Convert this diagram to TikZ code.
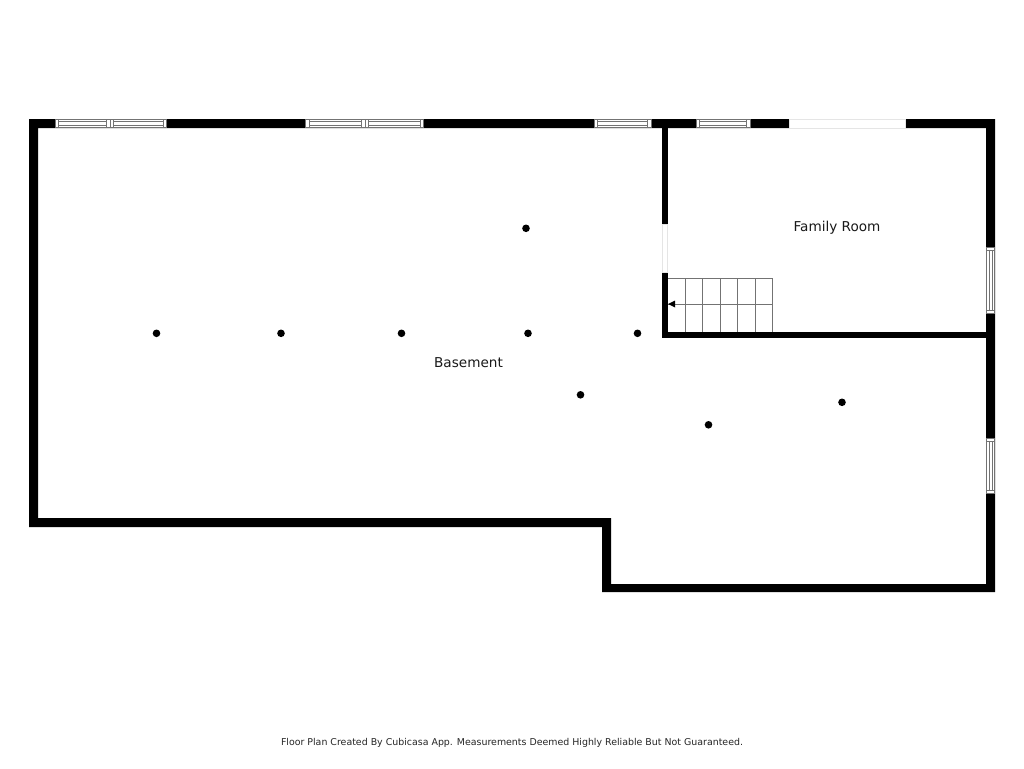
\documentclass[tikz,border=0pt]{standalone}
\usepackage{fontspec}
\setmainfont{DejaVu Sans}
\newcommand{\hwin}[2]{%
  \fill[white] (#1,118.5) rectangle (#2,128);
  \draw[winline] (#1,119) rectangle (#2,127.5);
  \draw[winline] (#1+3.5,119) -- (#1+3.5,127.5) (#2-3.5,119) -- (#2-3.5,127.5);
  \draw[winline] (#1+3.5,121.5) -- (#2-3.5,121.5) (#1+3.5,125) -- (#2-3.5,125);
}
\newcommand{\vwin}[2]{%
  \fill[white] (986,#1) rectangle (995,#2);
  \draw[winline] (986.5,#1+.5) rectangle (994.5,#2-.5);
  \draw[winline] (986.5,#1+3.5) -- (994.5,#1+3.5) (986.5,#2-3.5) -- (994.5,#2-3.5);
  \draw[winline] (989,#1+3.5) -- (989,#2-3.5) (992.5,#1+3.5) -- (992.5,#2-3.5);
}
\tikzset{
  winline/.style={draw=black!55,line width=1pt},
  lamp/.style={circle,fill=black,inner sep=0pt,minimum size=7.6pt},
  roomlabel/.style={font=\fontsize{13.6}{16}\selectfont,text=black!90},
  stairline/.style={draw=black!55,line width=1pt},
  opening/.style={draw=black!10,line width=.7pt,fill=white}
}
\begin{document}
\begin{tikzpicture}[x=1pt,y=-1pt]
\useasboundingbox (0,0) rectangle (1024,768);
\fill[white] (0,0) rectangle (1024,768);
% outer walls
\fill[black] (29,119) -- (995,119) -- (995,592) -- (602,592) -- (602,527) -- (29,527) -- cycle
  (38,128) -- (38,518) -- (611,518) -- (611,584) -- (986,584) -- (986,128) -- cycle;
% inner walls
\fill[black] (662,128) rectangle (668,224);
\fill[black] (662,272) rectangle (668,338);
\fill[black] (662,332) rectangle (986,338);
% stairs
\draw[stairline] (668,278) -- (772,278) -- (772,332) (668,304) -- (772,304);
\foreach \x in {685,702.5,720,737.5,755} \draw[stairline] (\x,278) -- (\x,332);
\fill[black] (668,304) -- (675,300.5) -- (675,307.5) -- cycle;
% windows
\hwin{55}{110}
\hwin{110}{166.5}
\hwin{305.5}{365}
\hwin{365}{423.5}
\hwin{594}{651}
\hwin{696}{750}
\vwin{247}{314}
\vwin{438}{494}
% openings
\draw[opening] (789.5,119) rectangle (905,128);
\draw[opening] (662.5,224) rectangle (667.5,272);
% lamps
\node[lamp] (l1) at (156.5,333.3) {};
\node[lamp] (l2) at (281,333.3) {};
\node[lamp] (l3) at (401.5,333.3) {};
\node[lamp] (l4) at (528,333.3) {};
\node[lamp] (l5) at (637.5,333.3) {};
\node[lamp] (l6) at (526,228.3) {};
\node[lamp] (l7) at (580.5,394.8) {};
\node[lamp] (l8) at (708.5,424.8) {};
\node[lamp] (l9) at (842,402.3) {};
% labels
\node[roomlabel] (family) at (837,227.5) {Family Room};
\node[roomlabel] (basement) at (468.5,362.7) {Basement};
\node[font=\fontsize{9.42}{11}\selectfont,text=black!85] (credit) at (512,743) {Floor Plan Created By Cubicasa App. Measurements Deemed Highly Reliable But Not Guaranteed.};
\end{tikzpicture}
\end{document}
